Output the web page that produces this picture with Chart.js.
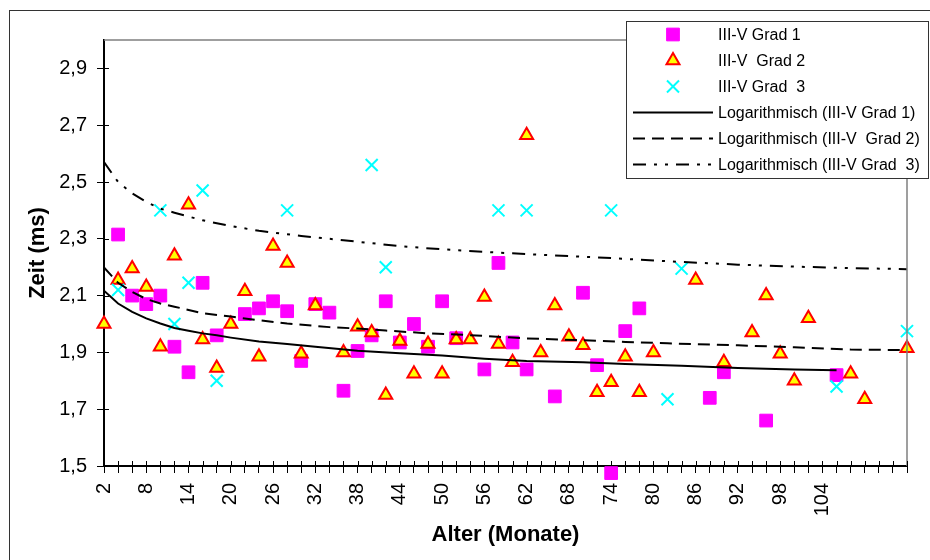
<!DOCTYPE html>
<html>
<head>
<meta charset="utf-8">
<script src="https://cdn.jsdelivr.net/npm/chart.js@4.4.1/dist/chart.umd.min.js"></script>
<style>
  html, body { margin: 0; padding: 0; background: #fff; }
  #wrap { width: 930px; height: 560px; }
</style>
</head>
<body>
<div id="wrap"><canvas id="chart"></canvas></div>
<script>
// values (x = Alter in Monaten, y = Zeit in ms)
const g1Months = [4, 6, 8, 10, 12, 14, 16, 18, 22, 24, 26, 28, 30, 32, 34, 36, 38, 40, 42, 44, 46, 48, 50, 52, 56, 58, 60, 62, 66, 70, 72, 74, 76, 78, 88, 90, 96, 106];
const g1Times = [2.315, 2.10, 2.07, 2.10, 1.92, 1.83, 2.145, 1.96, 2.035, 2.055, 2.08, 2.045, 1.87, 2.07, 2.04, 1.765, 1.905, 1.96, 2.08, 1.935, 2.00, 1.92, 2.08, 1.95, 1.84, 2.215, 1.935, 1.84, 1.745, 2.11, 1.855, 1.475, 1.975, 2.055, 1.74, 1.83, 1.66, 1.82];

const g2Months = [2, 4, 6, 8, 10, 12, 14, 16, 18, 20, 22, 24, 26, 28, 30, 32, 36, 38, 40, 42, 44, 46, 48, 50, 52, 54, 56, 58, 60, 62, 64, 66, 68, 70, 72, 74, 76, 78, 80, 86, 90, 94, 96, 98, 100, 102, 108, 110, 116];
const g2Times = [2.00, 2.155, 2.195, 2.13, 1.92, 2.24, 2.42, 1.945, 1.845, 2.00, 2.115, 1.885, 2.275, 2.215, 1.895, 2.065, 1.90, 1.99, 1.97, 1.75, 1.94, 1.825, 1.93, 1.825, 1.945, 1.945, 2.095, 1.93, 1.865, 2.665, 1.90, 2.065, 1.955, 1.925, 1.76, 1.795, 1.885, 1.76, 1.90, 2.155, 1.865, 1.97, 2.10, 1.895, 1.80, 2.02, 1.825, 1.735, 1.915];

const g3Months = [4, 10, 12, 14, 16, 18, 28, 40, 42, 58, 62, 74, 82, 84, 106, 116];
const g3Times = [2.12, 2.40, 2.00, 2.145, 2.47, 1.80, 2.40, 2.56, 2.20, 2.40, 2.40, 2.40, 1.735, 2.195, 1.78, 1.975];

// trend lines
const t1Months = [2, 4, 6, 8, 10, 12, 14, 16, 18, 20, 24, 28, 32, 38, 44, 50, 56, 62, 70, 76, 84, 92, 100, 106];
const t1Times = [2.117, 2.072, 2.043, 2.020, 2.002, 1.986, 1.976, 1.967, 1.960, 1.952, 1.938, 1.930, 1.920, 1.906, 1.897, 1.889, 1.878, 1.870, 1.865, 1.859, 1.853, 1.845, 1.840, 1.837];
const t2Months = [2, 4, 6, 8, 10, 12, 16, 20, 24, 28, 34, 38, 42, 48, 52, 56, 62, 70, 76, 82, 92, 100, 108, 116];
const t2Times = [2.199, 2.145, 2.113, 2.088, 2.072, 2.061, 2.038, 2.026, 2.013, 2.002, 1.989, 1.984, 1.977, 1.967, 1.963, 1.958, 1.949, 1.943, 1.937, 1.932, 1.925, 1.918, 1.910, 1.908];
const t3Months = [2, 4, 6, 8, 10, 12, 16, 20, 24, 30, 36, 44, 50, 56, 62, 68, 74, 82, 92, 100, 108, 116];
const t3Times = [2.570, 2.500, 2.460, 2.430, 2.406, 2.392, 2.365, 2.345, 2.328, 2.310, 2.295, 2.274, 2.263, 2.254, 2.246, 2.239, 2.232, 2.221, 2.209, 2.202, 2.197, 2.193];

const yTicks = [1.5, 1.7, 1.9, 2.1, 2.3, 2.5, 2.7, 2.9];
const xLabels = [2, 8, 14, 20, 26, 32, 38, 44, 50, 56, 62, 68, 74, 80, 86, 92, 98, 104];
const xMin = 2, xMax = 116, xStep = 2;

const names = [
  'III-V Grad 1', 'III-V  Grad 2', 'III-V Grad  3',
  'Logarithmisch (III-V Grad 1)', 'Logarithmisch (III-V  Grad 2)', 'Logarithmisch (III-V Grad  3)'
];

const pts = (xs, ys) => xs.map((x, i) => ({ x: x, y: ys[i] }));

Chart.defaults.font.family = "'Liberation Sans', Arial, sans-serif";
Chart.defaults.color = '#000';

// outer frame, grey plot border, inward tick marks
const framePlugin = {
  id: 'frame',
  afterDraw(chart) {
    const ctx = chart.ctx, a = chart.chartArea;
    const xs = chart.scales.x, ys = chart.scales.y;
    ctx.save();
    ctx.strokeStyle = '#808080';
    ctx.lineWidth = 1.5;
    ctx.beginPath();
    ctx.moveTo(a.left, a.top);
    ctx.lineTo(a.right, a.top);
    ctx.lineTo(a.right, a.bottom);
    ctx.stroke();

    ctx.strokeStyle = '#000';
    ctx.lineWidth = 1;
    ctx.beginPath();
    xs.ticks.forEach(t => {
      const p = Math.round(xs.getPixelForValue(t.value)) + 0.5;
      ctx.moveTo(p, a.bottom);
      ctx.lineTo(p, a.bottom - 5);
    });
    ys.ticks.forEach(t => {
      const p = Math.round(ys.getPixelForValue(t.value)) + 0.5;
      ctx.moveTo(a.left, p);
      ctx.lineTo(a.left + 5, p);
    });
    ctx.stroke();

    ctx.strokeStyle = '#333';
    ctx.lineWidth = 1;
    ctx.strokeRect(9.5, 10.5, 940, 580);
    ctx.restore();
  }
};

// legend box in the top right corner, like the Excel one
const legendPlugin = {
  id: 'boxLegend',
  afterDraw(chart) {
    const ctx = chart.ctx;
    const box = { x: 626, y: 21, w: 302, h: 157 };
    ctx.save();
    ctx.fillStyle = '#fff';
    ctx.fillRect(box.x, box.y, box.w, box.h);
    ctx.strokeStyle = '#333';
    ctx.lineWidth = 1;
    ctx.strokeRect(box.x + 0.5, box.y + 0.5, box.w, box.h);

    ctx.font = "16px 'Liberation Sans', Arial, sans-serif";
    ctx.textBaseline = 'middle';
    ctx.textAlign = 'left';
    chart.data.datasets.forEach((ds, i) => {
      const yy = 34.5 + i * 26;
      if (ds.showLine) {
        ctx.strokeStyle = ds.borderColor;
        ctx.lineWidth = ds.borderWidth;
        ctx.setLineDash(ds.borderDash || []);
        ctx.beginPath();
        ctx.moveTo(633, yy);
        ctx.lineTo(713, yy);
        ctx.stroke();
        ctx.setLineDash([]);
      } else {
        ctx.fillStyle = ds.backgroundColor;
        ctx.strokeStyle = ds.borderColor;
        ctx.lineWidth = ds.borderWidth;
        Chart.helpers.drawPoint(ctx, {
          pointStyle: ds.pointStyle, radius: ds.pointRadius, rotation: 0, borderWidth: ds.borderWidth
        }, 673, yy);
      }
      ctx.fillStyle = '#000';
      ctx.fillText(names[i], 718, yy + 1);
    });
    ctx.restore();
  }
};

new Chart(document.getElementById('chart'), {
  type: 'scatter',
  data: {
    datasets: [
      {
        data: pts(g1Months, g1Times),
        pointStyle: 'rect', pointRadius: 9, borderWidth: 1,
        backgroundColor: '#ff00ff', borderColor: '#ff00ff',
        clip: false, order: 4
      },
      {
        data: pts(g2Months, g2Times),
        pointStyle: 'triangle', pointRadius: 7.5, borderWidth: 2,
        backgroundColor: '#ffff00', borderColor: '#ff0000',
        clip: false, order: 3
      },
      {
        data: pts(g3Months, g3Times),
        pointStyle: 'crossRot', pointRadius: 8.5, borderWidth: 2,
        backgroundColor: '#00ffff', borderColor: '#00ffff',
        clip: false, order: 2
      },
      {
        data: pts(t1Months, t1Times),
        showLine: true, pointRadius: 0, borderWidth: 2,
        borderColor: '#000', backgroundColor: '#000', order: 1
      },
      {
        data: pts(t2Months, t2Times),
        showLine: true, pointRadius: 0, borderWidth: 2, borderDash: [12, 7],
        borderColor: '#000', backgroundColor: '#000', order: 1
      },
      {
        data: pts(t3Months, t3Times),
        showLine: true, pointRadius: 0, borderWidth: 2, borderDash: [13, 8, 3, 8, 3, 8],
        borderColor: '#000', backgroundColor: '#000', order: 1
      }
    ]
  },
  options: {
    responsive: true,
    maintainAspectRatio: false,
    animation: false,
    events: [],
    layout: { padding: { left: 0, top: 40, right: 23, bottom: 0 } },
    plugins: {
      legend: { display: false },
      tooltip: { enabled: false }
    },
    scales: {
      x: {
        type: 'linear',
        min: xMin,
        max: xMax,
        afterFit(scale) {
          scale.height = 94;
          scale.paddingLeft = 0;
          scale.paddingRight = 0;
        },
        afterBuildTicks(scale) {
          const t = [];
          for (let v = xMin; v <= xMax; v += xStep) t.push({ value: v });
          scale.ticks = t;
        },
        ticks: {
          autoSkip: false,
          minRotation: 90,
          maxRotation: 90,
          padding: 10,
          font: { size: 20 },
          color: '#000',
          callback: v => xLabels.includes(v) ? String(v) : ''
        },
        grid: { drawOnChartArea: false, drawTicks: true, tickLength: 7, color: '#000', lineWidth: 1 },
        border: { display: true, color: '#000', width: 2 },
        title: {
          display: true, text: 'Alter (Monate)', color: '#000',
          font: { size: 22, weight: 'bold' },
          padding: { top: 0, bottom: 12 }
        }
      },
      y: {
        type: 'linear',
        min: 1.5,
        max: 3.0,
        afterFit(scale) {
          scale.width = 104;
          scale.paddingTop = 0;
          scale.paddingBottom = 0;
        },
        afterBuildTicks(scale) {
          scale.ticks = yTicks.map(v => ({ value: v }));
        },
        ticks: {
          padding: 10,
          font: { size: 20 },
          color: '#000',
          callback: v => v.toFixed(1).replace('.', ',')
        },
        grid: { drawOnChartArea: false, drawTicks: true, tickLength: 7, color: '#000', lineWidth: 1 },
        border: { display: true, color: '#000', width: 2 },
        title: {
          display: true, text: 'Zeit (ms)', color: '#000',
          font: { size: 22, weight: 'bold' },
          padding: { top: 25, bottom: 0 }
        }
      }
    }
  },
  plugins: [framePlugin, legendPlugin]
});
</script>
</body>
</html>
